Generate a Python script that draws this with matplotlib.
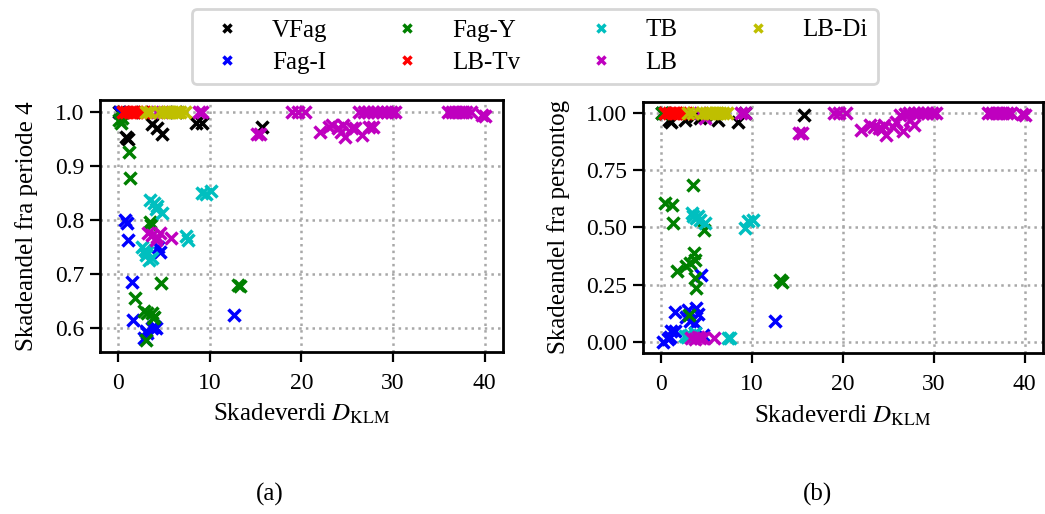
import matplotlib
matplotlib.use("Agg")
import matplotlib.pyplot as plt
import numpy as np

plt.rcParams['font.family'] = ['Liberation Serif', 'DejaVu Sans']
plt.rcParams['mathtext.fontset'] = 'stix'
plt.rcParams['font.size'] = 18

# Skadeverdi D_KLM (shared by both panels), a = andel fra periode 4, b = andel fra persontog
vfag_x = [0.1, 0.5, 0.9, 1.1, 2.6, 3.7, 4.3, 4.8, 6.3, 8.5, 9.2, 15.7]
vfag_a = [1.0, 1.0, 0.955, 0.950, 1.0, 0.978, 0.970, 0.959, 1.0, 0.981, 0.981, 0.972]
vfag_b = [1.0, 1.0, 0.968, 0.963, 0.970, 0.985, 0.978, 0.99, 0.970, 0.963, 1.0, 0.99]

fagi_x = [0.2, 0.8, 1.0, 1.1, 1.5, 1.6, 2.8, 3.0, 3.2, 3.7, 3.9, 4.1, 4.4, 4.6, 12.6]
fagi_a = [1.0, 0.80, 0.795, 0.763, 0.685, 0.614, 0.580, 0.593, 0.59, 0.60, 0.602, 0.60, 0.750, 0.741, 0.624]
fagi_b = [0.0, 0.01, 0.02, 0.045, 0.13, 0.045, 0.11, 0.14, 0.089, 0.082, 0.147, 0.12, 0.29, 0.03, 0.092]

fagy_x = [0.1, 0.3, 0.4, 1.2, 1.35, 1.8, 2.8, 3.1, 3.2, 3.5, 3.6, 3.7, 3.8, 3.9, 4.7, 13.1, 13.3]
fagy_a = [0.986, 0.98, 0.99, 0.927, 0.877, 0.655, 0.63, 0.577, 0.627, 0.797, 0.79, 0.627, 0.617, 0.62,
          0.682, 0.679, 0.677]
fagy_b = [1.0, 1.0, 0.606, 0.599, 0.519, 0.307, 0.33, 0.118, 0.344, 0.686, 0.388, 0.358, 0.279, 0.235,
          0.49, 0.27, 0.26]

lbtv_x = [0.5, 0.9, 1.3, 1.7, 2.1, 2.5, 2.8]
lbtv_a = [1.0, 1.0, 1.0, 1.0, 1.0, 1.0, 1.0]
lbtv_b = [1.0, 1.0, 1.0, 1.0, 1.0, 1.0, 1.0]

tb_x = [2.6, 2.9, 3.0, 3.2, 3.4, 3.5, 3.7, 3.9, 4.1, 4.3, 4.8, 7.4, 7.6, 9.2, 9.6, 10.1]
tb_a = [0.750, 0.745, 0.735, 0.741, 0.726, 0.837, 0.73, 0.831, 0.82, 0.825, 0.812, 0.77, 0.762, 0.85,
        0.848, 0.853]
tb_b = [0.023, 0.02, 0.025, 0.03, 0.563, 0.548, 0.038, 0.541, 0.55, 0.533, 0.52, 0.016, 0.016, 0.497,
        0.526, 0.533]

lb_x = [3.3, 3.7, 4.1, 4.3, 4.6, 5.8, 4.3, 4.8, 8.8, 9.2, 15.2, 15.5, 19.0, 19.6, 20.4,
        22.0, 23.0, 23.4, 24.0, 24.3, 24.5, 24.8, 25.5, 25.9, 26.6, 27.4, 27.8,
        26.3, 26.8, 27.3, 27.8, 28.3, 28.8, 29.3, 29.8, 30.2,
        36.0, 36.4, 36.8, 37.2, 37.6, 38.0, 38.5, 39.7, 40.0]
lb_a = [0.775, 0.772, 0.763, 0.769, 0.775, 0.766, 1.0, 1.0, 1.0, 1.0, 0.959, 0.959, 1.0, 1.0, 1.0,
        0.963, 0.973, 0.976, 0.970, 0.964, 0.976, 0.955, 0.970, 0.97, 0.958, 0.973, 0.973,
        1.0, 1.0, 1.0, 1.0, 1.0, 1.0, 1.0, 1.0, 1.0,
        1.0, 1.0, 1.0, 1.0, 1.0, 1.0, 1.0, 0.995, 0.993]
lb_b = [0.016, 0.012, 0.02, 0.016, 0.016, 0.016, 1.0, 0.98, 1.0, 1.0, 0.913, 0.913, 1.0, 1.0, 1.0,
        0.927, 0.949, 0.94, 0.934, 0.93, 0.949, 0.905, 0.941, 0.963, 0.92, 0.971, 0.949,
        0.993, 0.995, 1.0, 1.0, 1.0, 1.0, 1.0, 1.0, 1.0,
        1.0, 1.0, 1.0, 1.0, 1.0, 1.0, 1.0, 0.995, 0.99]

lbdi_x = [3.0, 3.5, 4.5, 5.0, 5.3, 5.6, 5.9, 6.2, 6.5, 6.8, 7.3]
lbdi_a = [1.0] * 11
lbdi_b = [1.0] * 11

series = [
    ('VFag', 'k', vfag_x, vfag_a, vfag_b),
    ('Fag-I', 'b', fagi_x, fagi_a, fagi_b),
    ('Fag-Y', 'g', fagy_x, fagy_a, fagy_b),
    ('LB-Tv', 'r', lbtv_x, lbtv_a, lbtv_b),
    ('TB', 'c', tb_x, tb_a, tb_b),
    ('LB', 'm', lb_x, lb_a, lb_b),
    ('LB-Di', 'y', lbdi_x, lbdi_a, lbdi_b),
]

fig = plt.figure(figsize=(10.45, 5.14), dpi=100)
ax1 = fig.add_axes([0.0954, 0.3157, 0.3859, 0.4903])
ax2 = fig.add_axes([0.615, 0.313, 0.383, 0.4893])

for name, col, x, ya, yb in series:
    ax1.plot(x, ya, 'x', color=col, ms=8.5, mew=2.5, label=name)
    ax2.plot(x, yb, 'x', color=col, ms=8.5, mew=2.5)

for ax in (ax1, ax2):
    ax.set_xticks([0, 10, 20, 30, 40])
    ax.set_xlim(-2, 42)
    ax.grid(color='#a8a8a8', linestyle=':', linewidth=1.8)
    ax.set_axisbelow(True)
    ax.tick_params(length=7, width=1.6, labelsize=17)
    ax.tick_params(axis='x', pad=8)
    ax.tick_params(axis='y', pad=4)
    for sp in ax.spines.values():
        sp.set_linewidth(2.0)
    ax.set_xlabel(r'Skadeverdi $D_\mathrm{KLM}$', labelpad=6)

ax1.set_ylim(0.555, 1.0234)
ax1.set_yticks([0.6, 0.7, 0.8, 0.9, 1.0])
ax1.set_ylabel('Skadeandel fra periode 4', labelpad=12)

ax2.set_ylim(-0.05, 1.05)
ax2.set_yticks([0.0, 0.25, 0.5, 0.75, 1.0])
ax2.set_yticklabels(['0.00', '0.25', '0.50', '0.75', '1.00'])
ax2.set_ylabel('Skadeandel fra persontog', labelpad=12)

fig.text(270 / 1045, 1 - 494 / 514, '(a)', ha='center', va='center')
fig.text(818 / 1045, 1 - 494 / 514, '(b)', ha='center', va='center')

leg = fig.legend(loc='upper center', bbox_to_anchor=(535 / 1045, 1 - 9 / 514), ncol=4,
                 borderaxespad=0, markerscale=0.75, labelspacing=0.4, columnspacing=2.2)
leg.get_frame().set_linewidth(2.0)

fig.savefig('out.png', dpi=100)
